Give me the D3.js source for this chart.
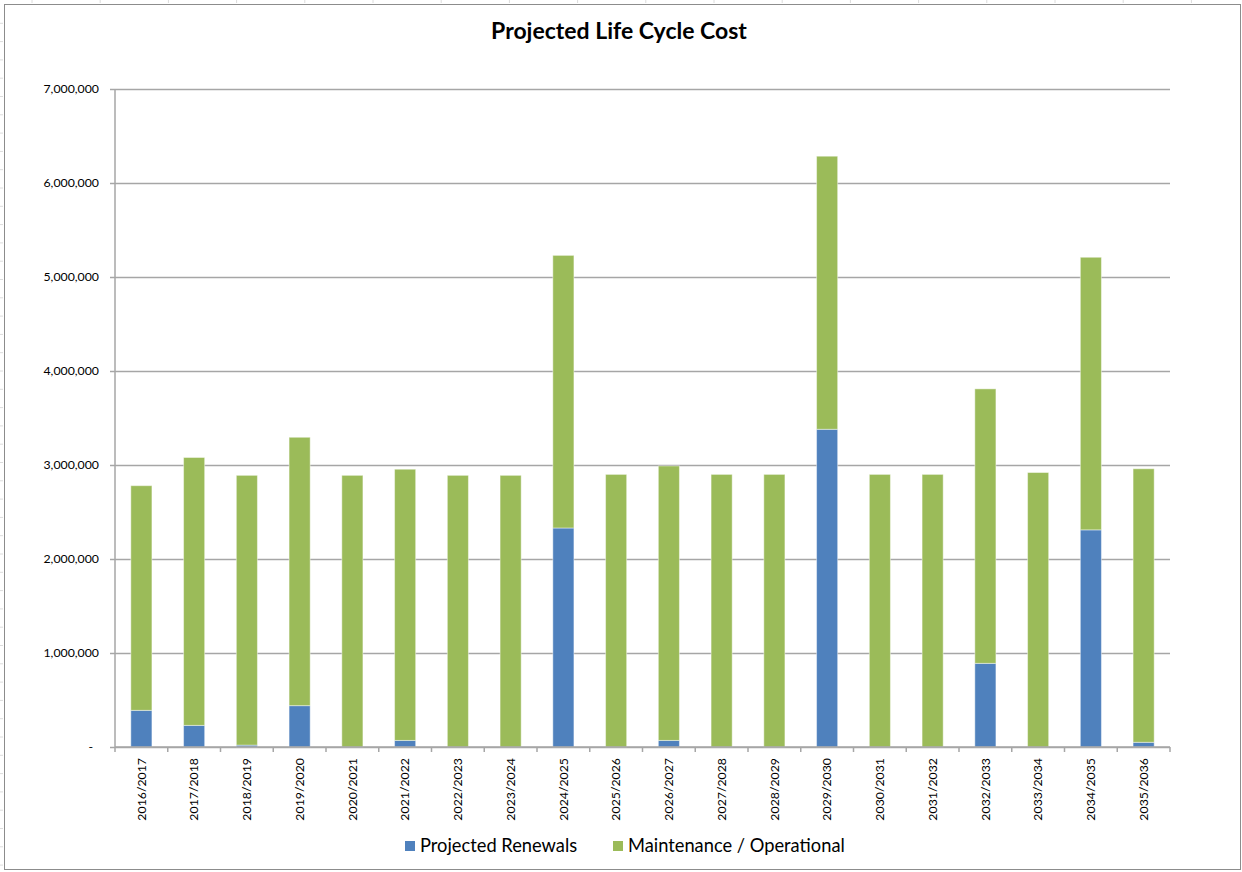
<!DOCTYPE html>
<html>
<head>
<meta charset="utf-8">
<script src="https://cdn.jsdelivr.net/npm/d3@7"></script>
<style>
  html, body { margin: 0; padding: 0; background: #ffffff; }
  svg { display: block; }
  text { font-family: Lato, "Noto Sans", sans-serif; fill: #000; }
</style>
</head>
<body>
<svg id="chart" width="1242" height="872"></svg>
<script>
// Financial years on the category axis
const years = [
  "2016/2017", "2017/2018", "2018/2019", "2019/2020", "2020/2021",
  "2021/2022", "2022/2023", "2023/2024", "2024/2025", "2025/2026",
  "2026/2027", "2027/2028", "2028/2029", "2029/2030", "2030/2031",
  "2031/2032", "2032/2033", "2033/2034", "2034/2035", "2035/2036"
];

// Projected renewal spend per year
const renewals = [
  390000, 230000, 20000, 440000, 0,
  70000, 0, 0, 2330000, 0,
  70000, 0, 0, 3380000, 0,
  0, 890000, 0, 2310000, 50000
];

// Maintenance / operational spend per year
const maintenance = [
  2390000, 2850000, 2870000, 2855000, 2890000,
  2885000, 2890000, 2890000, 2900000, 2900000,
  2920000, 2900000, 2900000, 2905000, 2900000,
  2900000, 2920000, 2920000, 2900000, 2910000
];

const seriesNames = ["Projected Renewals", "Maintenance / Operational"];
const seriesColors = ["#4f81bd", "#9bbb59"];

const yTicks = [0, 1000000, 2000000, 3000000, 4000000, 5000000, 6000000, 7000000];
const yTickLabels = ["-", "1,000,000", "2,000,000", "3,000,000", "4,000,000", "5,000,000", "6,000,000", "7,000,000"];

const svg = d3.select("#chart");
const W = 1242, H = 872;
const plot = { left: 115, right: 1170, top: 89, bottom: 747 };

// Outer chart frame with the small ruler marks along its top and left edges
const frame = svg.append("g");
d3.range(32, W, 68.2).forEach(x => {
  frame.append("line").attr("x1", x).attr("x2", x).attr("y1", 0).attr("y2", 3)
    .attr("stroke", "#dcdcdc").attr("stroke-width", 1);
});
d3.range(23.3, H, 18.3).forEach(y => {
  frame.append("line").attr("x1", 0).attr("x2", 3).attr("y1", y).attr("y2", y)
    .attr("stroke", "#dcdcdc").attr("stroke-width", 1);
});
frame.append("rect")
  .attr("x", 4.5).attr("y", 4.5)
  .attr("width", 1236).attr("height", 865)
  .attr("fill", "none").attr("stroke", "#8c8c8c").attr("stroke-width", 1);

// Scales
const x = d3.scaleBand()
  .domain(years)
  .range([plot.left, plot.right])
  .paddingInner(0.6)
  .paddingOuter(0.3);

const y = d3.scaleLinear()
  .domain([0, 7000000])
  .range([plot.bottom, plot.top]);

// Horizontal gridlines with short outward ticks
const yAxis = d3.axisLeft(y)
  .tickValues(yTicks)
  .tickSize(-(plot.right - plot.left))
  .tickFormat((d, i) => yTickLabels[i]);

const yG = svg.append("g")
  .attr("transform", `translate(${plot.left},0)`)
  .call(yAxis);
yG.select(".domain").remove();
yG.selectAll(".tick line")
  .attr("x1", -5)
  .attr("stroke", "#a6a6a6")
  .attr("stroke-width", 1.5);
yG.selectAll(".tick text")
  .attr("x", (d) => d === 0 ? -22 : -16)
  .attr("font-size", 12.3)
  .attr("font-family", "Lato, 'Noto Sans', sans-serif")
  .attr("fill", "#000");

// Stacked bars
const stackData = years.map((yr, i) => ({ year: yr, renew: renewals[i], maint: maintenance[i] }));
const stacked = d3.stack().keys(["renew", "maint"])(stackData);

svg.append("g").selectAll("g")
  .data(stacked)
  .join("g")
  .attr("fill", (d, i) => seriesColors[i])
  .selectAll("rect")
  .data(d => d.filter(p => p[1] > p[0]))
  .join("rect")
  .attr("x", d => x(d.data.year))
  .attr("width", x.bandwidth())
  .attr("y", d => y(d[1]))
  .attr("height", d => y(d[0]) - y(d[1]))
  .attr("stroke", "rgba(255,255,255,0.45)")
  .attr("stroke-width", 1);

// Vertical value axis line
svg.append("line")
  .attr("x1", plot.left).attr("x2", plot.left)
  .attr("y1", plot.top).attr("y2", plot.bottom)
  .attr("stroke", "#a6a6a6").attr("stroke-width", 1.5);

// Category axis: baseline with ticks between categories
const boundaries = d3.range(years.length + 1).map(i => plot.left + i * x.step());
const xAxisG = svg.append("g");
xAxisG.append("line")
  .attr("x1", plot.left).attr("x2", plot.right)
  .attr("y1", plot.bottom).attr("y2", plot.bottom)
  .attr("stroke", "#a6a6a6").attr("stroke-width", 1.5);
xAxisG.selectAll("line.tk")
  .data(boundaries)
  .join("line")
  .attr("class", "tk")
  .attr("x1", d => d).attr("x2", d => d)
  .attr("y1", plot.bottom).attr("y2", plot.bottom + 5)
  .attr("stroke", "#a6a6a6").attr("stroke-width", 1.5);

xAxisG.selectAll("text")
  .data(years)
  .join("text")
  .attr("transform", d => `translate(${x(d) + x.bandwidth() / 2},${plot.bottom + 11}) rotate(-90)`)
  .attr("dy", "0.35em")
  .attr("text-anchor", "end")
  .attr("font-size", 12.3)
  .text(d => d);

// Title
svg.append("text")
  .attr("x", 619).attr("y", 39)
  .attr("text-anchor", "middle")
  .attr("font-size", 23)
  .attr("font-weight", "bold")
  .text("Projected Life Cycle Cost");

// Legend
const legendPos = [{ sx: 405, tx: 420 }, { sx: 613, tx: 628 }];
const legend = svg.append("g");
seriesNames.forEach((name, i) => {
  legend.append("rect")
    .attr("x", legendPos[i].sx).attr("y", 841)
    .attr("width", 10).attr("height", 10)
    .attr("fill", seriesColors[i]);
  legend.append("text")
    .attr("x", legendPos[i].tx).attr("y", 852)
    .attr("font-size", 18.3)
    .attr("fill", "#000")
    .text(name);
});
</script>
</body>
</html>
